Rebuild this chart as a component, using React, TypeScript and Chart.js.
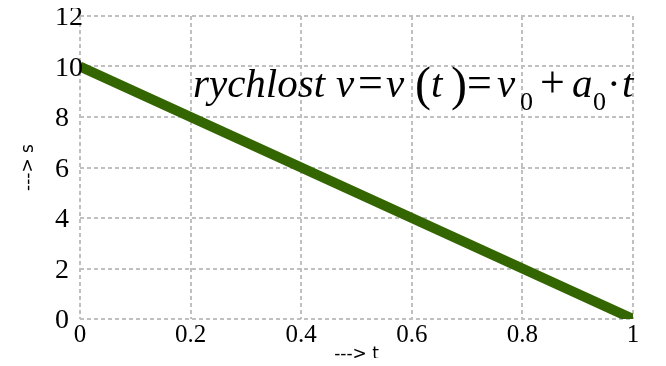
import React, { useEffect, useRef } from "react";
import { Chart, registerables } from "chart.js";

Chart.register(...registerables);

// data: t values and s values of the plotted line
const tValues = [0, 0.1, 0.2, 0.3, 0.4, 0.5, 0.6, 0.7, 0.8, 0.9, 1];
const sValues = [10, 9, 8, 7, 6, 5, 4, 3, 2, 1, 0];

const xTitle = "---> t";
const yTitle = "---> s";

// formula anchor (in data units) and its pieces
const FORMULA_T = 0.2043;
const FORMULA_S = 8.79;
const formulaParts = [
  { text: "rychlost", italic: true, size: 41, dx: 0, dy: 0 },
  { text: "v", italic: true, size: 41, dx: 143, dy: 0 },
  { text: "=", italic: false, size: 44, dx: 165, dy: 0 },
  { text: "v", italic: true, size: 41, dx: 193, dy: 0 },
  { text: "(", italic: false, size: 48, dx: 222, dy: 3 },
  { text: "t", italic: true, size: 41, dx: 238, dy: 0 },
  { text: ")", italic: false, size: 48, dx: 258, dy: 3 },
  { text: "=", italic: false, size: 44, dx: 274, dy: 0 },
  { text: "v", italic: true, size: 41, dx: 304, dy: 0 },
  { text: "0", italic: false, size: 26, dx: 327, dy: 13 },
  { text: "+", italic: false, size: 44, dx: 347, dy: 0 },
  { text: "a", italic: true, size: 41, dx: 379, dy: 0 },
  { text: "0", italic: false, size: 26, dx: 400, dy: 13 },
  { text: "\u00b7", italic: false, size: 41, dx: 414, dy: 0 },
  { text: "t", italic: true, size: 41, dx: 429, dy: 0 },
];

const SERIF = '"Liberation Serif", "Times New Roman", serif';
const SANS = '"DejaVu Sans", sans-serif';
const Y_LABEL_LEFT = 47; // canvas x of the left edge of y tick labels

const formulaPlugin = {
  id: "formula",
  afterDatasetsDraw(chart: any) {
    const { ctx } = chart;
    const xs = chart.scales.x;
    const ys = chart.scales.y;
    const x0 = xs.getPixelForValue(FORMULA_T);
    const y0 = ys.getPixelForValue(FORMULA_S);
    ctx.save();
    ctx.fillStyle = "#000";
    ctx.textAlign = "left";
    ctx.textBaseline = "alphabetic";
    for (const p of formulaParts) {
      ctx.font = `${p.italic ? "italic " : ""}${p.size}px ${SERIF}`;
      ctx.fillText(p.text, x0 + p.dx, y0 + p.dy);
    }
    // y tick labels, left aligned
    ctx.font = `28px ${SERIF}`;
    ctx.textBaseline = "middle";
    for (const t of ys.ticks) {
      ctx.fillText(String(t.value), Y_LABEL_LEFT, ys.getPixelForValue(t.value) + 2);
    }
    ctx.restore();
  },
};

export default function App() {
  const ref = useRef<HTMLCanvasElement | null>(null);

  useEffect(() => {
    if (!ref.current) return;
    const chart = new Chart(ref.current, {
      type: "line",
      data: {
        datasets: [
          {
            data: tValues.map((t, i) => ({ x: t, y: sValues[i] })),
            borderColor: "#336600",
            backgroundColor: "#336600",
            borderWidth: 10,
            pointRadius: 0,
            tension: 0,
            fill: false,
          },
        ],
      },
      options: {
        responsive: false,
        animation: false,
        layout: { padding: { top: 8, right: 25, left: 0, bottom: 0 } },
        plugins: {
          legend: { display: false },
          tooltip: { enabled: false },
        },
        scales: {
          x: {
            type: "linear",
            min: 0,
            max: 1,
            ticks: {
              stepSize: 0.2,
              color: "#000",
              font: { family: SERIF, size: 25 },
              padding: 1,
              maxRotation: 0,
              autoSkip: false,
              callback: (v: any) => String(Math.round(Number(v) * 10) / 10),
            },
            grid: { color: "#c0c0c0", lineWidth: 2, drawTicks: false },
            border: { display: false, dash: [4, 3] },
            title: {
              display: true,
              text: xTitle,
              color: "#000",
              font: { family: SANS, size: 17, lineHeight: 0.45 },
              padding: 0,
            },
            afterFit: (s: any) => {
              s.height = 39;
              s.paddingLeft = 0;
              s.paddingRight = 0;
            },
          },
          y: {
            type: "linear",
            min: 0,
            max: 12,
            ticks: {
              stepSize: 2,
              display: false,
            },
            grid: { color: "#c0c0c0", lineWidth: 2, drawTicks: false },
            border: { display: false, dash: [4, 3] },
            title: {
              display: true,
              text: yTitle,
              color: "#000",
              font: { family: SANS, size: 17, lineHeight: 1.2 },
              padding: { top: 10, bottom: 0 },
            },
            afterFit: (s: any) => {
              s.width = 72;
              s.paddingTop = 0;
              s.paddingBottom = 0;
            },
          },
        },
      } as any,
      plugins: [formulaPlugin],
    });
    return () => chart.destroy();
  }, []);

  return (
    <div style={{ width: 650, height: 350 }}>
      <canvas ref={ref} width={650} height={350} style={{ display: "block" }} />
    </div>
  );
}
